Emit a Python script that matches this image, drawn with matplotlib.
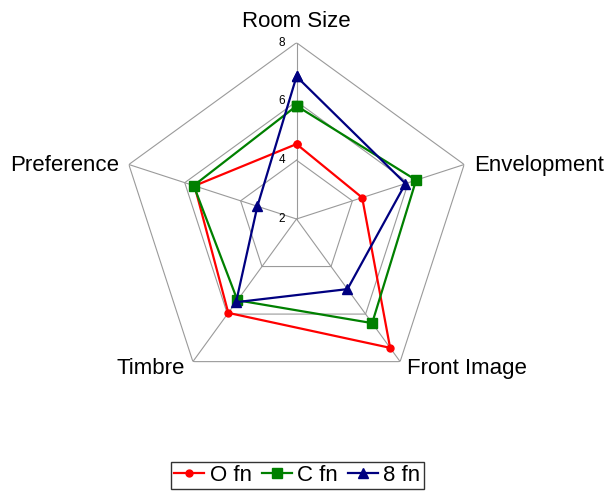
import numpy as np
import matplotlib
matplotlib.use("Agg")
import matplotlib.pyplot as plt

plt.rcParams['font.family'] = ['Liberation Sans', 'DejaVu Sans']

categories = ["Room Size", "Envelopment", "Front Image", "Timbre", "Preference"]
o_fn = [4.55, 4.35, 7.42, 5.95, 5.65]
c_fn = [5.85, 6.28, 6.38, 5.42, 5.68]
e_fn = [6.85, 5.9, 4.95, 5.5, 3.4]
series_names = ["O fn", "C fn", "8 fn"]
ring_values = [2, 4, 6, 8]
r_min, r_max = 2, 8

fig = plt.figure(figsize=(6.13, 4.93), dpi=100)
ax = fig.add_axes([0.1961, 0.1982, 0.5752, 0.7152], projection='polar')
ax.set_theta_offset(np.pi / 2)
ax.set_theta_direction(-1)
ax.set_ylim(r_min, r_max)
ax.grid(False)
ax.spines['polar'].set_visible(False)
ax.set_xticks([])
ax.set_yticks([])
ax.patch.set_alpha(0)

n = len(categories)
angles = [2 * np.pi * i / n for i in range(n)]
closed_angles = angles + [angles[0]]

grid_color = '#9a9a9a'
for v in ring_values[1:]:
    ax.plot(closed_angles, [v] * (n + 1), color=grid_color, lw=0.8, zorder=1)
for a in angles:
    ax.plot([a, a], [r_min, r_max], color=grid_color, lw=0.8, zorder=1)

styles = [
    dict(color='#ff0000', marker='o', markersize=5),
    dict(color='#008000', marker='s', markersize=7),
    dict(color='#000080', marker='^', markersize=7),
]
for name, vals, st in zip(series_names, [o_fn, c_fn, e_fn], styles):
    ax.plot(closed_angles, list(vals) + [vals[0]], lw=1.6, label=name,
            clip_on=False, zorder=3, **st)

# tick labels
for v in ring_values:
    ax.annotate(str(v), xy=(0, v), xytext=(-8, 0), textcoords='offset points',
                ha='right', va='center', fontsize=8.5, annotation_clip=False)

# category labels
label_specs = [
    ((0, 11.3), 'center'),
    ((7, -4.7), 'left'),
    ((4.7, -9.1), 'left'),
    ((-5.6, -9.1), 'right'),
    ((-6.8, -4.7), 'right'),
]
for a, cat, (off, ha) in zip(angles, categories, label_specs):
    ax.annotate(cat, xy=(a, r_max), xytext=off, textcoords='offset points',
                ha=ha, va='baseline', fontsize=16, annotation_clip=False)

leg = fig.legend(loc='center', bbox_to_anchor=(0.485, 0.0355), ncol=3,
                 fontsize=16, frameon=True, fancybox=False, edgecolor='black',
                 handlelength=1.35, handletextpad=0.25, columnspacing=0.45,
                 borderpad=0.15, borderaxespad=0)
leg.get_frame().set_linewidth(1.0)

fig.savefig('out.png', dpi=100)
